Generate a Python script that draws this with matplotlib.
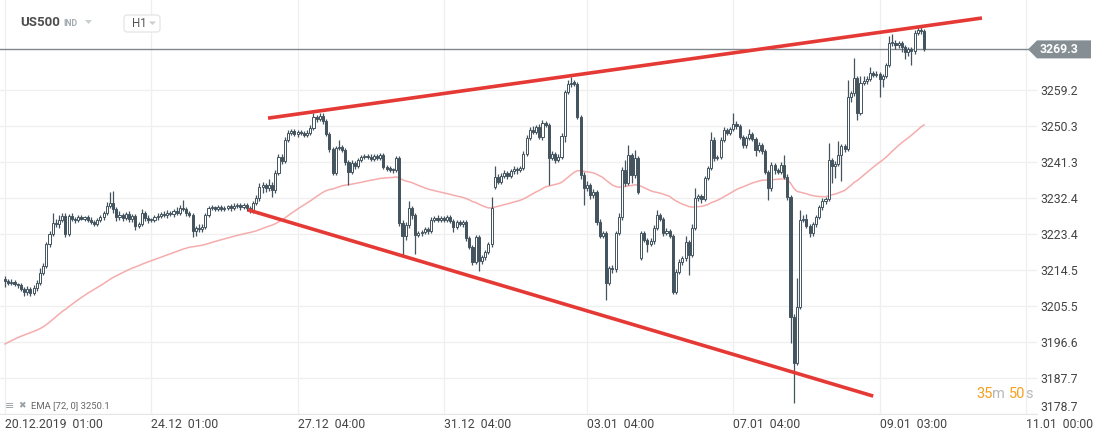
import numpy as np
import pandas as pd
import matplotlib
matplotlib.use('Agg')
import matplotlib.pyplot as plt
from matplotlib.patches import Polygon, FancyBboxPatch

plt.rcParams['font.family'] = ['Roboto', 'DejaVu Sans']

# hourly closes of US500 (one value per candle)
closes = [
    3211.8, 3211.2, 3211.5, 3210.9, 3210.6, 3209.8, 3208.9, 3209.6, 3208.8, 3209.9,
    3211.2, 3213.8, 3215.4, 3220.8, 3223.4, 3226.2, 3225.8, 3226.9, 3227.8, 3223.4,
    3227.9, 3227.2, 3226.8, 3227.6, 3227.2, 3227.5, 3227.0, 3226.4, 3226.0, 3226.8,
    3227.6, 3228.5, 3230.4, 3231.0, 3229.5, 3227.6, 3228.2, 3227.4, 3228.3, 3227.1,
    3227.8, 3225.5, 3226.0, 3228.6, 3227.4, 3226.8, 3227.0, 3227.5, 3227.9, 3228.4,
    3228.0, 3228.6, 3228.3, 3229.0, 3228.7, 3229.8, 3229.5, 3228.6, 3228.2, 3224.2,
    3225.0, 3224.6, 3225.2, 3228.2, 3229.8, 3230.0, 3229.7, 3230.1, 3229.6, 3229.9,
    3230.3, 3229.8, 3230.4, 3230.6, 3230.0, 3230.5, 3229.8, 3229.2, 3231.0, 3232.3,
    3235.2, 3235.6, 3234.8, 3235.6, 3234.3, 3238.6, 3242.5, 3241.6, 3246.8, 3248.6,
    3249.0, 3248.2, 3248.8, 3248.4, 3248.0, 3248.6, 3249.8, 3252.4, 3252.0, 3252.8,
    3251.4, 3248.2, 3244.6, 3238.6, 3244.8, 3245.0, 3244.4, 3241.3, 3238.8, 3241.0,
    3240.2, 3241.8, 3242.6, 3242.9, 3242.6, 3242.0, 3242.8, 3242.4, 3243.0, 3240.0,
    3239.6, 3239.4, 3239.2, 3242.2, 3226.2, 3222.8, 3225.6, 3229.8, 3228.0, 3223.2,
    3223.6, 3224.0, 3224.6, 3224.2, 3226.8, 3227.4, 3227.0, 3227.4, 3227.0, 3227.6,
    3226.6, 3225.2, 3226.4, 3225.8, 3226.4, 3222.4, 3220.2, 3216.4, 3222.6, 3216.8,
    3217.6, 3218.8, 3220.8, 3229.8, 3237.6, 3236.4, 3237.8, 3238.6, 3237.8, 3239.0,
    3239.6, 3239.2, 3239.8, 3243.2, 3247.3, 3249.3, 3248.8, 3250.0, 3247.4, 3251.0,
    3250.6, 3242.4, 3243.4, 3241.8, 3242.6, 3247.8, 3258.7, 3260.6, 3261.0, 3260.8,
    3252.5, 3238.0, 3234.8, 3235.6, 3233.0, 3233.8, 3226.4, 3223.0, 3223.6, 3211.2,
    3214.9, 3214.6, 3223.6, 3227.6, 3239.3, 3236.2, 3243.0, 3238.0, 3242.2, 3233.8,
    3223.6, 3222.0, 3220.8, 3221.6, 3225.0, 3228.0, 3227.2, 3223.6, 3224.2, 3223.0,
    3209.0, 3214.0, 3216.5, 3217.4, 3221.4, 3218.2, 3225.0, 3232.3, 3232.8, 3232.0,
    3237.3, 3239.8, 3246.8, 3242.3, 3242.5, 3246.8, 3249.2, 3248.6, 3249.4, 3250.8,
    3250.2, 3247.6, 3245.5, 3247.2, 3248.2, 3247.0, 3244.3, 3245.6, 3244.0, 3238.8,
    3234.8, 3240.6, 3239.2, 3238.8, 3240.5, 3237.6, 3232.6, 3202.8, 3191.3, 3205.3,
    3226.9, 3227.2, 3225.4, 3223.6, 3225.8, 3227.6, 3230.0, 3231.7, 3232.2, 3241.8,
    3240.4, 3240.8, 3243.0, 3245.2, 3244.6, 3257.5, 3258.4, 3262.2, 3253.5, 3261.0,
    3261.4, 3262.0, 3263.4, 3263.0, 3263.2, 3262.0, 3262.7, 3265.4, 3270.9, 3271.0,
    3270.4, 3270.8, 3270.0, 3268.6, 3269.4, 3268.8, 3273.4, 3274.0, 3273.8, 3269.3,
]

# wick length above / below the candle body
up_wick = [
    0.6, 0.5, 0.6, 0.5, 0.4, 0.6, 0.5, 0.8, 0.6, 0.7,
    0.8, 1.2, 0.8, 0.6, 0.7, 2.4, 1.0, 1.2, 0.8, 0.7,
    0.5, 0.6, 0.5, 0.4, 0.5, 0.4, 0.5, 0.6, 0.5, 0.6,
    0.6, 0.7, 1.0, 2.8, 3.0, 0.6, 0.8, 0.5, 0.6, 0.7,
    0.5, 0.6, 0.5, 0.9, 0.5, 0.6, 0.4, 0.5, 0.6, 0.5,
    0.6, 0.7, 0.5, 0.6, 1.2, 0.7, 2.0, 0.6, 0.5, 0.4,
    0.5, 1.0, 0.6, 0.5, 0.6, 0.5, 0.4, 0.5, 0.6, 0.5,
    0.4, 0.5, 0.6, 0.5, 0.4, 0.6, 0.5, 0.5, 0.6, 0.8,
    1.0, 0.8, 0.6, 1.5, 0.8, 0.6, 0.8, 0.7, 0.8, 0.6,
    0.5, 0.6, 0.5, 0.4, 0.5, 0.6, 0.8, 1.0, 0.6, 0.7,
    0.6, 0.5, 0.6, 0.5, 0.6, 1.8, 0.6, 0.5, 0.6, 0.8,
    0.5, 0.6, 0.5, 0.4, 0.5, 0.6, 0.5, 0.6, 0.5, 0.6,
    0.5, 0.6, 0.5, 0.6, 0.5, 0.6, 0.8, 1.8, 0.6, 0.5,
    0.6, 0.5, 0.6, 0.5, 0.8, 0.5, 0.6, 0.5, 0.4, 0.5,
    0.6, 0.5, 0.6, 0.5, 0.6, 0.5, 0.6, 0.5, 0.6, 0.5,
    0.6, 0.5, 0.6, 2.8, 2.6, 0.6, 0.8, 0.6, 0.5, 0.6,
    0.6, 0.5, 0.6, 0.8, 0.6, 0.7, 1.0, 0.6, 0.8, 0.7,
    0.6, 0.5, 0.6, 0.5, 0.6, 0.8, 0.5, 1.0, 1.4, 0.8,
    0.5, 0.6, 0.8, 1.0, 0.6, 0.7, 0.6, 0.8, 0.6, 0.5,
    0.6, 0.8, 0.6, 1.0, 0.8, 2.4, 2.5, 0.6, 2.0, 0.6,
    0.5, 0.6, 0.5, 0.8, 0.6, 1.4, 0.6, 0.5, 0.6, 0.5,
    0.5, 0.6, 0.8, 0.6, 1.5, 0.5, 0.8, 2.5, 0.6, 0.5,
    0.6, 0.5, 2.0, 0.6, 0.5, 0.6, 0.8, 0.6, 0.7, 2.7,
    0.8, 0.6, 0.5, 0.6, 1.2, 0.6, 0.5, 0.6, 0.5, 0.6,
    0.5, 0.6, 0.5, 0.6, 0.8, 2.6, 0.6, 0.5, 0.6, 7.2,
    2.5, 0.8, 1.2, 0.6, 0.5, 0.6, 0.5, 0.6, 0.5, 4.2,
    0.6, 0.8, 3.5, 0.6, 0.5, 4.2, 0.6, 5.0, 0.6, 1.8,
    1.4, 0.8, 1.4, 0.6, 0.8, 0.6, 0.5, 0.6, 1.8, 2.2,
    0.6, 0.5, 0.6, 0.5, 0.6, 0.5, 0.8, 1.2, 1.0, 0.5,
]
dn_wick = [
    1.6, 0.5, 0.6, 0.5, 0.6, 0.5, 0.8, 0.6, 0.9, 0.5,
    0.6, 0.5, 0.6, 0.5, 0.6, 0.5, 0.7, 0.8, 0.6, 0.8,
    0.6, 0.5, 0.6, 0.5, 0.4, 0.5, 0.6, 0.5, 0.7, 0.6,
    0.5, 0.6, 0.5, 0.6, 0.8, 0.9, 0.6, 0.8, 0.5, 0.8,
    0.6, 1.1, 0.6, 0.5, 0.7, 0.6, 0.5, 0.6, 0.5, 0.6,
    0.5, 0.6, 0.5, 0.6, 0.5, 0.6, 0.5, 0.7, 0.6, 1.5,
    1.2, 0.6, 0.8, 0.5, 0.6, 0.5, 0.6, 0.5, 0.4, 0.5,
    0.5, 0.6, 0.4, 0.5, 0.6, 0.5, 0.6, 0.7, 0.6, 0.5,
    0.6, 1.6, 1.0, 0.6, 1.7, 0.6, 0.5, 0.8, 0.6, 0.5,
    0.6, 0.5, 0.6, 0.5, 0.6, 0.5, 0.6, 0.5, 0.8, 0.6,
    0.6, 0.5, 0.8, 0.6, 0.5, 0.6, 0.5, 0.8, 3.2, 0.6,
    0.6, 0.5, 0.6, 0.5, 0.6, 0.5, 0.4, 0.5, 0.6, 0.5,
    0.6, 0.5, 0.6, 0.5, 0.7, 5.2, 1.0, 0.6, 0.8, 4.7,
    0.5, 0.6, 0.5, 0.8, 0.6, 0.5, 0.6, 0.5, 0.6, 0.5,
    0.5, 1.2, 0.6, 0.5, 0.6, 0.8, 0.6, 0.8, 0.5, 2.6,
    0.8, 0.6, 0.5, 0.6, 0.4, 0.6, 0.5, 0.6, 0.8, 0.5,
    0.6, 0.8, 0.5, 0.6, 0.5, 0.6, 0.5, 0.6, 0.5, 0.6,
    0.5, 6.8, 0.6, 0.8, 0.5, 0.6, 1.5, 0.5, 0.6, 0.5,
    0.6, 1.0, 4.2, 0.6, 0.8, 0.6, 0.8, 0.6, 0.5, 4.2,
    0.5, 1.0, 0.6, 0.5, 0.6, 0.8, 0.6, 2.0, 0.6, 0.5,
    0.4, 0.6, 1.8, 0.5, 0.8, 0.6, 0.5, 0.6, 0.5, 0.6,
    0.5, 0.6, 0.5, 0.8, 0.6, 5.0, 0.6, 0.5, 0.6, 0.8,
    0.5, 0.6, 0.5, 0.8, 0.6, 0.5, 0.6, 0.5, 0.6, 0.5,
    0.6, 0.5, 0.6, 0.8, 0.5, 0.6, 1.4, 0.6, 0.8, 0.6,
    3.0, 0.6, 0.8, 0.6, 0.5, 0.6, 0.8, 6.5, 9.9, 0.5,
    0.6, 0.5, 0.6, 1.0, 0.8, 0.6, 0.5, 0.6, 0.8, 0.6,
    4.3, 3.0, 0.6, 6.5, 0.8, 0.5, 1.2, 0.6, 1.8, 0.6,
    0.6, 0.8, 0.6, 0.5, 0.6, 4.5, 2.0, 0.6, 0.5, 0.8,
    1.0, 0.8, 1.4, 1.8, 1.0, 3.3, 0.6, 0.5, 0.6, 0.5,
]

# candles that open away from the previous close (session gaps)
gap_opens = {0: 3212.3, 154: 3235.0, 200: 3217.4}

ema_span = 72
ema_seed = 3195.6  # EMA value just before the first visible candle

tick_pos = [0, 46, 92, 138, 183, 229, 275, 321]
tick_labels = ['20.12.2019  01:00', '24.12  01:00', '27.12  04:00', '31.12  04:00',
               '03.01  04:00', '07.01  04:00', '09.01  03:00', '11.01  00:00']
price_ticks = [3178.7, 3187.7, 3196.6, 3205.5, 3214.5, 3223.4, 3232.4, 3241.3, 3250.3, 3259.2]

# hand drawn channel lines (candle index, price)
upper_x, upper_y = [82.7, 307.2], [3252.2, 3277.1]
lower_x, lower_y = [76.4, 273.0], [3229.4, 3183.1]

candle_col = '#43545e'
grid_col = '#efefef'
text_col = '#444444'

closes = np.array(closes)
opens = np.r_[closes[0], closes[:-1]]
for k, v in gap_opens.items():
    opens[k] = v
top = np.maximum(opens, closes)
bot = np.minimum(opens, closes)
highs = top + np.array(up_wick)
lows = bot - np.array(dn_wick)
x = np.arange(len(closes))

ema = pd.Series(np.r_[ema_seed, closes]).ewm(span=ema_span, adjust=False).mean().values[1:]

fig = plt.figure(figsize=(11, 4.38), dpi=100)
ax = fig.add_axes([0, 24 / 438, 1037 / 1100, 414 / 438])
ax.set_xlim(-1.57, 324.5)
ax.set_ylim(3178.64, 3281.58)

ax.set_yticks(price_ticks)
ax.set_xticks(tick_pos)
ax.grid(True, color=grid_col, lw=0.9, zorder=0)
ax.set_axisbelow(True)
for s in ['top', 'left', 'right']:
    ax.spines[s].set_visible(False)
ax.spines['bottom'].set_color('#e6e6e6')
ax.tick_params(length=0)
ax.yaxis.tick_right()
ax.set_yticklabels([f'{p:.1f}' for p in price_ticks], fontsize=8.8, color=text_col)
ax.tick_params(axis='y', pad=2.5)
ax.get_yticklabels()[0].set_verticalalignment('bottom')
ax.set_xticklabels(tick_labels, ha='left', fontsize=8.8, color=text_col)
ax.tick_params(axis='x', pad=3)

# EMA line
ax.plot(x, ema, color='#f4a3a3', lw=1.1, alpha=0.9, zorder=2)

# candles
ax.vlines(x, lows, highs, color=candle_col, lw=0.9, zorder=3)
body_h = np.maximum(top - bot, 0.3)
fc = np.where(closes >= opens, 'white', candle_col)
ax.bar(x, body_h, bottom=bot, width=0.66, color=fc, edgecolor=candle_col,
       linewidth=0.7, zorder=4)

# channel lines
ax.plot(upper_x, upper_y, color='#e53935', lw=2.6, solid_capstyle='butt', zorder=5)
ax.plot(lower_x, lower_y, color='#e53935', lw=2.6, solid_capstyle='butt', zorder=5)

# current price line
last = closes[-1]
ax.axhline(last, color='#7d878c', lw=1.0, zorder=1)

# overlay in pixel coordinates for header, price tag and footer texts
ov = fig.add_axes([0, 0, 1, 1], zorder=10)
ov.set_xlim(0, 1100)
ov.set_ylim(438, 0)
ov.axis('off')
ov.patch.set_visible(False)

fig.canvas.draw()
yc = 438 - ax.transData.transform((0, last))[1]
tag = Polygon([[1028, yc], [1037, yc - 9], [1091, yc - 9], [1091, yc + 9], [1037, yc + 9]],
              closed=True, fc='#848e93', ec='none')
ov.add_patch(tag)
ov.text(1040, yc, f'{last:.1f}', color='white', fontsize=8.8, fontweight='bold',
        va='center', ha='left')

# header
ov.text(20, 23, 'US500', fontsize=9.5, fontweight='bold', color='#4d4d4d', va='center')
ov.text(63, 23.5, 'IND', fontsize=6.3, fontweight='bold', color='#a3acb1', va='center')
ov.add_patch(Polygon([[85, 20], [92, 20], [88.5, 24]], closed=True, fc='#c9ced1', ec='none'))
ov.add_patch(FancyBboxPatch((124, 15), 36, 17, boxstyle='round,pad=0,rounding_size=3',
                            fc='white', ec='#e2e2e2', lw=0.8))
ov.text(132, 23.5, 'H1', fontsize=8.3, color='#555555', va='center')
ov.add_patch(Polygon([[149, 21.5], [156, 21.5], [152.5, 25]], closed=True, fc='#c9ced1', ec='none'))

# indicator legend
ov.text(5, 406, '≡', fontsize=8, color='#9aa1a6', va='center')
ov.text(18, 406, '✖', fontsize=6.5, color='#9aa1a6', va='center')
ov.text(31, 406, 'EMA [72, 0] 3250.1', fontsize=6.8, color='#666666', va='center')

# candle countdown
ov.text(976, 394, '35', fontsize=10.5, color='#f5a11f', va='center')
ov.text(992, 394, 'm', fontsize=10.5, color='#b8b8b8', va='center')
ov.text(1009, 394, '50', fontsize=10.5, color='#f5a11f', va='center')
ov.text(1025, 394, 's', fontsize=10.5, color='#b8b8b8', va='center')

fig.savefig('out.png', dpi=100)
